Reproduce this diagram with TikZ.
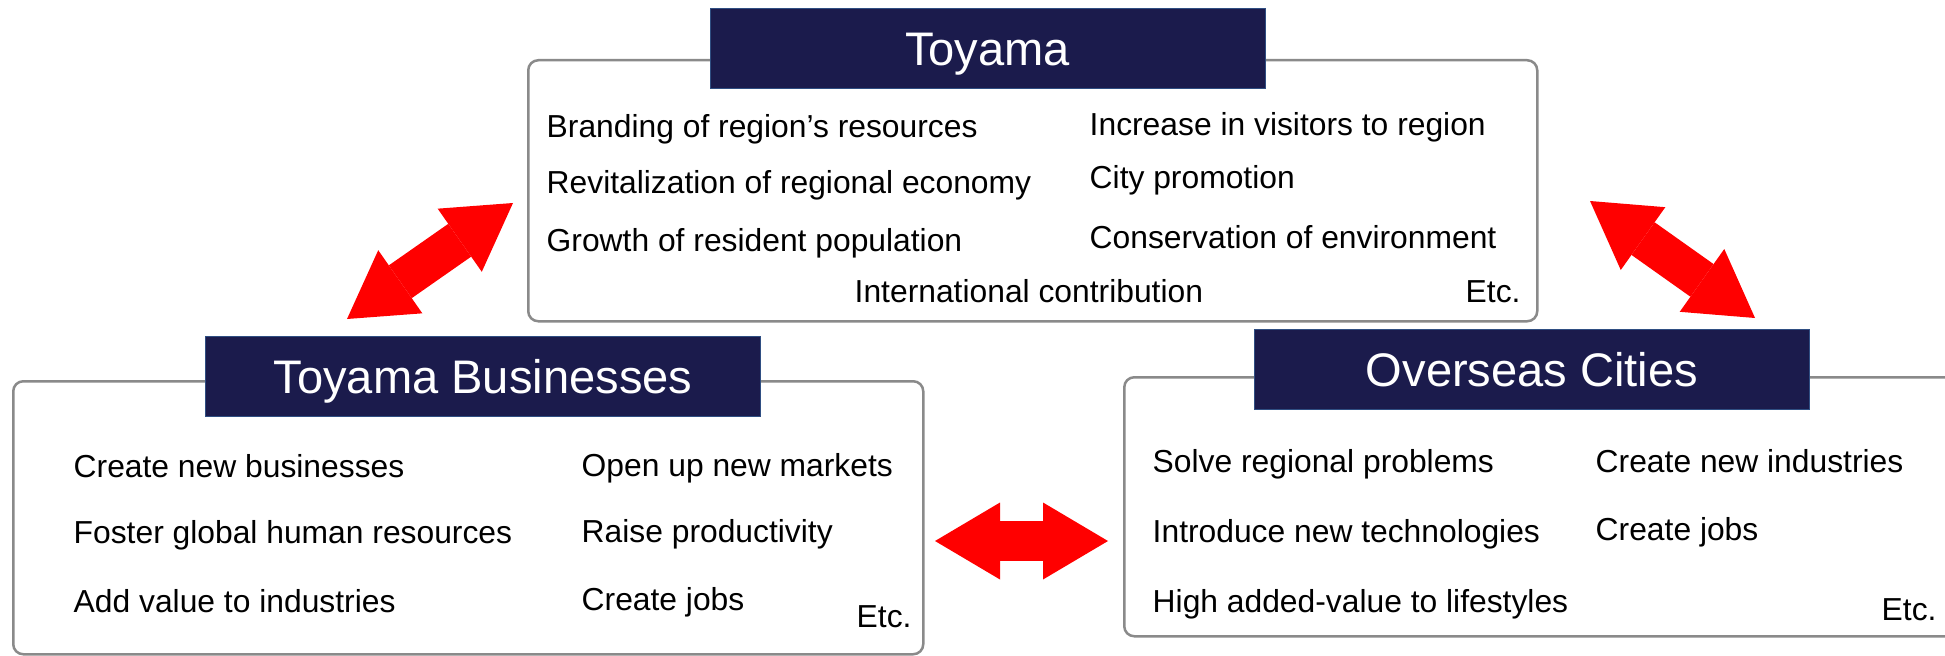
\documentclass[tikz,border=0pt]{standalone}
\usepackage{fontspec}
\setmainfont{Liberation Sans}
\usetikzlibrary{arrows.meta}
\definecolor{navy}{RGB}{27,27,76}
\definecolor{navyedge}{RGB}{47,78,130}
\definecolor{framegray}{RGB}{138,138,138}

\begin{document}
\begin{tikzpicture}[x=0.1mm, y=-0.1mm,
    panel/.style={draw=framegray, line width=0.25mm, rounded corners=1mm, fill=white, inner sep=0pt, anchor=north west},
    heading/.style={fill=navy, draw=navyedge, line width=0.1mm, minimum width=55.5mm, minimum height=8mm, inner sep=0pt,
        text=white, font=\fontsize{13.4pt}{16pt}\selectfont, text height=3.4mm, text depth=0pt},
    item/.style={anchor=base west, inner sep=0pt, font=\fontsize{9.05pt}{11pt}\selectfont},
    link/.style={draw=red, line width=4mm,
        {Triangle[length=6.5mm, width=7.7mm, line width=0pt]}-{Triangle[length=6.5mm, width=7.7mm, line width=0pt]}}]

        \useasboundingbox (0,0) rectangle (1945,655);
        \clip (0,0) rectangle (1945,655);

        % Toyama
        \node[panel, minimum width=100.9mm, minimum height=26.1mm] (toyama) at (527,59) {};
        \node[heading] (toyamaHead) at (987.5,49) {Toyama};
        \node[item] (t1) at (546,138) {Branding of region’s resources};
        \node[item] (t2) at (546,194) {Revitalization of regional economy};
        \node[item] (t3) at (546,251) {Growth of resident population};
        \node[item] (t4) at (1089,135) {Increase in visitors to region};
        \node[item] (t5) at (1089,188) {City promotion};
        \node[item] (t6) at (1089,248) {Conservation of environment};
        \node[item] (t7) at (854,302) {International contribution};
        \node[item] (t8) at (1465,302) {Etc.};

        % Toyama Businesses
        \node[panel, minimum width=91mm, minimum height=27.3mm] (business) at (12,380) {};
        \node[heading] (businessHead) at (483,376.5) {Toyama Businesses};
        \node[item] (b1) at (73,477) {Create new businesses};
        \node[item] (b2) at (73,543) {Foster global human resources};
        \node[item] (b3) at (73,612) {Add value to industries};
        \node[item] (b4) at (581,476) {Open up new markets};
        \node[item] (b5) at (581,542) {Raise productivity};
        \node[item] (b6) at (581,610) {Create jobs};
        \node[item] (b7) at (856,627) {Etc.};

        % Overseas Cities
        \node[panel, minimum width=90mm, minimum height=25.9mm] (overseas) at (1123,376) {};
        \node[heading] (overseasHead) at (1532,369) {Overseas Cities};
        \node[item] (o1) at (1152,472) {Solve regional problems};
        \node[item] (o2) at (1152,542) {Introduce new technologies};
        \node[item] (o3) at (1152,612) {High added-value to lifestyles};
        \node[item] (o4) at (1595,472) {Create new industries};
        \node[item] (o5) at (1595,540) {Create jobs};
        \node[item] (o6) at (1881,620) {Etc.};

        % Arrows
        \coordinate (tbA) at (347,319);
        \coordinate (tbB) at (513,203);
        \coordinate (toA) at (1590,201);
        \coordinate (toB) at (1755,318);
        \coordinate (boA) at (935,541);
        \coordinate (boB) at (1108,541);
        \draw[link] (tbA) -- (tbB);
        \draw[link] (toA) -- (toB);
        \draw[link] (boA) -- (boB);
\end{tikzpicture}
\end{document}
